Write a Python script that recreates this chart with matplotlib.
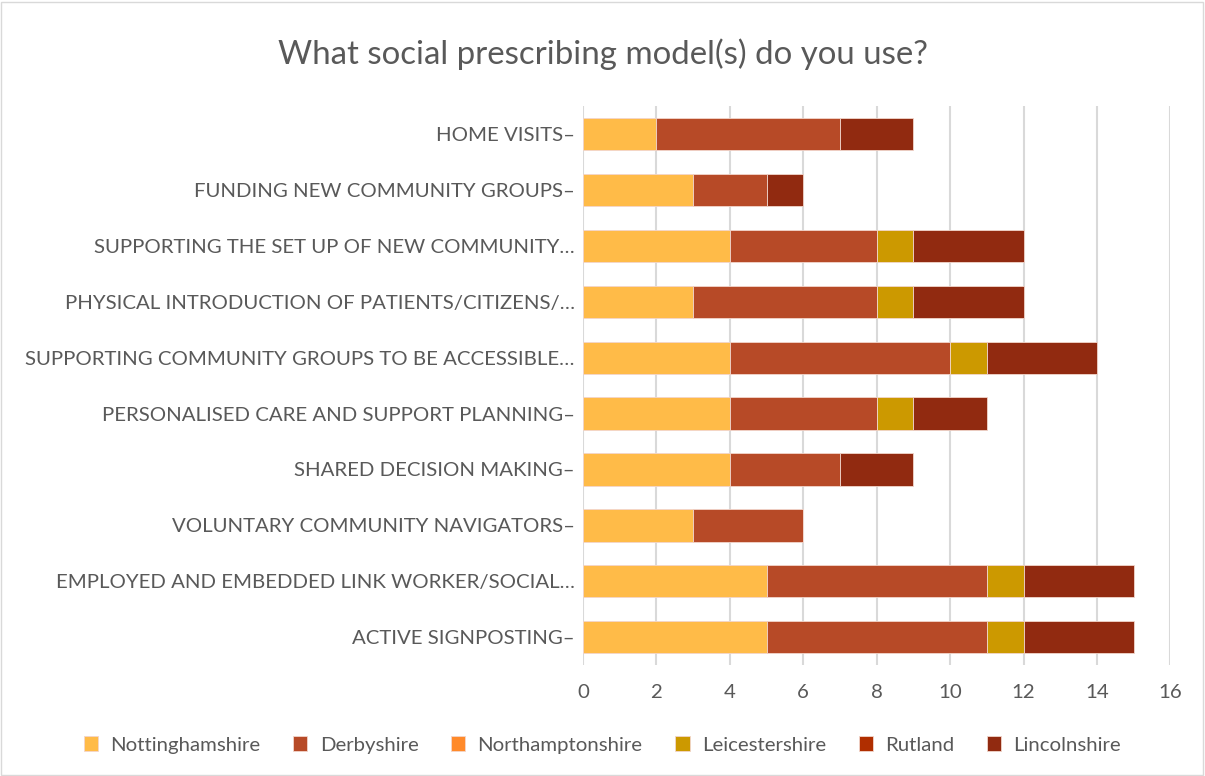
import numpy as np
import matplotlib.pyplot as plt
from matplotlib.patches import Rectangle

plt.rcParams["font.family"] = ["Lato", "DejaVu Sans"]

categories = [
    "HOME VISITS–",
    "FUNDING NEW COMMUNITY GROUPS–",
    "SUPPORTING THE SET UP OF NEW COMMUNITY…",
    "PHYSICAL INTRODUCTION OF PATIENTS/CITIZENS/…",
    "SUPPORTING COMMUNITY GROUPS TO BE ACCESSIBLE…",
    "PERSONALISED CARE AND SUPPORT PLANNING–",
    "SHARED DECISION MAKING–",
    "VOLUNTARY COMMUNITY NAVIGATORS–",
    "EMPLOYED AND EMBEDDED LINK WORKER/SOCIAL…",
    "ACTIVE SIGNPOSTING–",
]

regions = ["Nottinghamshire", "Derbyshire", "Northamptonshire",
           "Leicestershire", "Rutland", "Lincolnshire"]

nottinghamshire = [2, 3, 4, 3, 4, 4, 4, 3, 5, 5]
derbyshire = [5, 2, 4, 5, 6, 4, 3, 3, 6, 6]
northamptonshire = [0, 0, 0, 0, 0, 0, 0, 0, 0, 0]
leicestershire = [0, 0, 1, 1, 1, 1, 0, 0, 1, 1]
rutland = [0, 0, 0, 0, 0, 0, 0, 0, 0, 0]
lincolnshire = [2, 1, 3, 3, 3, 2, 2, 0, 3, 3]

series = [nottinghamshire, derbyshire, northamptonshire,
          leicestershire, rutland, lincolnshire]
colors = ["#FFBB48", "#B74A27", "#FF8A2A", "#CC9900", "#B02E00", "#912A10"]

fig = plt.figure(figsize=(12.05, 7.76), dpi=100)
ax = fig.add_axes([0.4838, 0.143, 0.4875, 0.72])

y = np.arange(len(categories))
left = np.zeros(len(categories))
for name, vals, col in zip(regions, series, colors):
    vals = np.array(vals, dtype=float)
    ax.barh(y, vals, left=left, height=0.58, color=col, label=name,
            edgecolor="#F2D6CC", linewidth=0.6, zorder=3)
    left += vals

ax.set_yticks(y)
ax.set_yticklabels(categories, fontsize=14.7, color="#595959")
ax.set_ylim(len(categories) - 0.5, -0.5)

ax.set_xlim(0, 16)
ax.set_xticks(range(0, 17, 2))
ax.tick_params(axis="x", labelsize=14.7, colors="#595959", length=0, pad=14)
ax.tick_params(axis="y", length=0, pad=6)
ax.grid(axis="x", color="#D9D9D9", linewidth=1.5, zorder=0)
for s in ax.spines.values():
    s.set_visible(False)

fig.suptitle("What social prescribing model(s) do you use?", fontsize=23.8,
             color="#595959", y=0.95)

handles, labels = ax.get_legend_handles_labels()
leg = fig.legend(handles, labels, loc="center", bbox_to_anchor=(0.5, 0.04),
                 ncol=6, frameon=False, fontsize=14.7, handlelength=0.7,
                 handleheight=0.7, handletextpad=0.6, columnspacing=1.6)
for t in leg.get_texts():
    t.set_color("#595959")

fig.patches.append(Rectangle((0.001, 0.001), 0.997, 0.997, transform=fig.transFigure,
                             fill=False, edgecolor="#D9D9D9", linewidth=1))

fig.savefig("out.png", dpi=100)
